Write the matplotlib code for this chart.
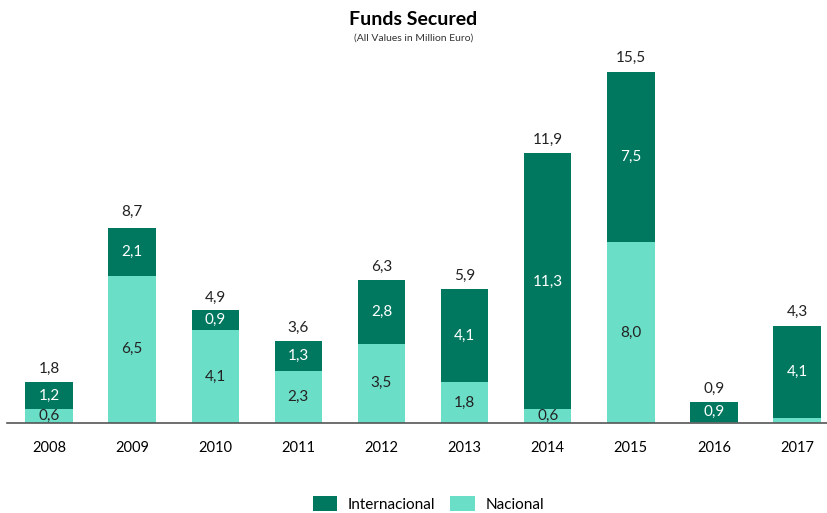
import matplotlib.pyplot as plt
import numpy as np

years = ['2008', '2009', '2010', '2011', '2012', '2013', '2014', '2015', '2016', '2017']
nacional = [0.6, 6.5, 4.1, 2.3, 3.5, 1.8, 0.6, 8.0, 0.04, 0.2]
internacional = [1.2, 2.1, 0.9, 1.3, 2.8, 4.1, 11.3, 7.5, 0.9, 4.1]
totals = [1.8, 8.7, 4.9, 3.6, 6.3, 5.9, 11.9, 15.5, 0.9, 4.3]

dark = '#00785F'
light = '#6BDEC8'

plt.rcParams['font.family'] = ['Lato', 'DejaVu Sans']

fig = plt.figure(figsize=(8.27, 5.13), dpi=100)
ax = fig.add_axes([7.4 / 827, 90 / 513, 1 - 7.4 / 827, 373 / 513])

x = np.arange(len(years))
w = 0.57
ax.bar(x, nacional, w, color=light, label='Nacional')
ax.bar(x, internacional, w, bottom=nacional, color=dark, label='Internacional')

fmt = lambda v: f'{v:.1f}'.replace('.', ',')
for i in range(len(years)):
    if nacional[i] >= 0.5:
        ax.text(x[i], nacional[i] / 2, fmt(nacional[i]), ha='center', va='center',
                fontsize=11, color='#222222')
    ax.text(x[i], nacional[i] + internacional[i] / 2, fmt(internacional[i]),
            ha='center', va='center', fontsize=11, color='white')
    ax.text(x[i], totals[i] + 0.3, fmt(totals[i]), ha='center', va='bottom',
            fontsize=11, color='#222222')

ax.set_xlim(-0.5, 9.36)
ax.set_ylim(0, 373 / 22.65)
ax.set_xticks(x)
ax.set_xticklabels(years, fontsize=10.5)
ax.tick_params(axis='x', length=0, pad=13)
ax.set_yticks([])
for s in ['top', 'right', 'left']:
    ax.spines[s].set_visible(False)
ax.spines['bottom'].set_color('#555555')
ax.spines['bottom'].set_linewidth(1.2)

fig.text(0.5, 0.962, 'Funds Secured', ha='center', va='center', fontsize=14, fontweight='bold')
fig.text(0.5, 0.925, '(All Values in Million Euro)', ha='center', va='center', fontsize=7.5,
         color='#333333')

handles, labels = ax.get_legend_handles_labels()
fig.legend(handles[::-1], labels[::-1], loc='center', bbox_to_anchor=(0.518, 0.018), ncol=2,
           frameon=False, fontsize=11, handlelength=1.6, handleheight=1.2, columnspacing=1.0,
           handletextpad=0.7)

fig.savefig('out.png', dpi=100)
